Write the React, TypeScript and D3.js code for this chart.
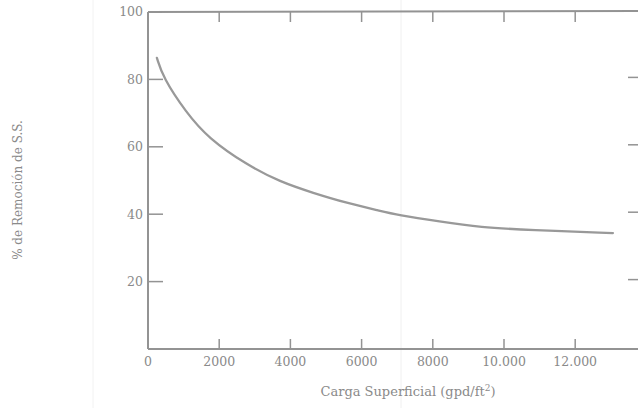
import React from "react";
import * as d3 from "d3";

const loadX = [250, 420, 1070, 1690, 2780, 3710, 4640, 5590, 6520, 7000, 8200, 9330, 10730, 13060];
const removalY = [86.4, 80.6, 70.2, 62.6, 54.6, 49.6, 46.3, 43.3, 41.0, 39.8, 37.8, 36.1, 35.3, 34.4];
const xTicks = [0, 2000, 4000, 6000, 8000, 10000, 12000];
const xTickLabels = ["0", "2000", "4000", "6000", "8000", "10.000", "12.000"];
const yTicks = [20, 40, 60, 80, 100];
const yTickLabels = ["20", "40", "60", "80", "100"];
const xTitleMain = "Carga Superficial (gpd/ft";
const xTitleSup = "2";
const xTitleEnd = ")";
const yTitle = "% de Remoción de S.S.";

export default function App() {
  const W = 638, H = 408;
  const x = d3.scaleLinear().domain([0, 14000]).range([148, 646.4]);
  const y = d3.scaleLinear().domain([0, 100]).range([349, 12]);
  const pts: [number, number][] = loadX.map((v, i) => [v, removalY[i]]);
  const line = d3.line<[number, number]>()
    .x(d => x(d[0]))
    .y(d => y(d[1]))
    .curve(d3.curveBasis);
  const ax = "#939393";
  const txt = "#8a8a8a";
  const font = "'DejaVu Serif', 'Liberation Serif', serif";
  const rightX = 640;
  return (
    <svg width={W} height={H} style={{ position: "absolute", left: 0, top: 0, background: "#fff" }}>
      <rect x={0} y={0} width={W} height={H} fill="#fff" />
      {/* faint scan artifacts */}
      <line x1={93} x2={93} y1={0} y2={H} stroke="#f2f2f2" strokeWidth={1} />
      <line x1={401} x2={401} y1={0} y2={H} stroke="#f0f0f0" strokeWidth={1} />
      {/* frame */}
      <line x1={x(0)} x2={W} y1={y(100)} y2={y(100) - 1} stroke={ax} strokeWidth={2} />
      <line x1={x(0)} x2={W} y1={y(0)} y2={y(0)} stroke={ax} strokeWidth={2} />
      <line x1={x(0)} x2={x(0)} y1={y(100)} y2={y(0)} stroke={ax} strokeWidth={2} />
      {/* left ticks + labels */}
      {yTicks.map((t, i) => (
        <g key={"y" + t}>
          {t < 100 && <line x1={x(0)} x2={x(0) + 15} y1={y(t)} y2={y(t)} stroke={ax} strokeWidth={1.5} />}
          {t < 100 && <line x1={rightX - 12} x2={rightX} y1={y(t) - 2} y2={y(t) - 2} stroke={ax} strokeWidth={1.5} />}
          <text x={143} y={y(t)} dy="0.35em" textAnchor="end" fontFamily={font} fontSize={12.5} fill={txt}>
            {yTickLabels[i]}
          </text>
        </g>
      ))}
      {/* x ticks + labels */}
      {xTicks.map((t, i) => (
        <g key={"x" + t}>
          {t > 0 && <line x1={x(t)} x2={x(t)} y1={y(0)} y2={y(0) - 10} stroke={ax} strokeWidth={1.5} />}
          {t > 0 && <line x1={x(t)} x2={x(t)} y1={y(100)} y2={y(100) + 10} stroke={ax} strokeWidth={1.5} />}
          <text x={x(t)} y={366} textAnchor="middle" fontFamily={font} fontSize={12.5} fill={txt}>
            {xTickLabels[i]}
          </text>
        </g>
      ))}
      {/* curve */}
      <path d={line(pts) || ""} fill="none" stroke="#999" strokeWidth={2.3} strokeLinecap="round" />
      {/* titles */}
      <text x={408} y={396} textAnchor="middle" fontFamily={font} fontSize={13} fill={txt}>
        {xTitleMain}
        <tspan dy={-5} fontSize={9}>{xTitleSup}</tspan>
        <tspan dy={5}>{xTitleEnd}</tspan>
      </text>
      <text transform="translate(22,190) rotate(-90)" textAnchor="middle" fontFamily={font} fontSize={12} fill={txt}>
        {yTitle}
      </text>
    </svg>
  );
}
